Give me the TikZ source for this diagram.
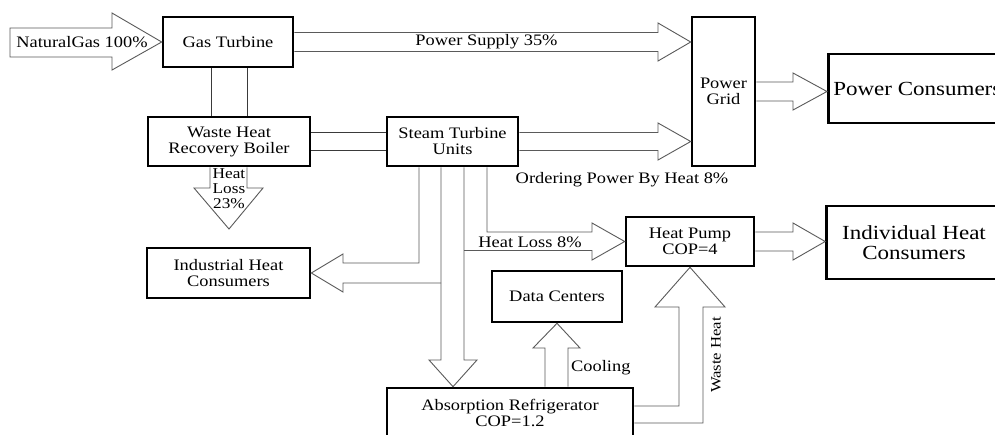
\documentclass[tikz,border=0pt]{standalone}
\usepackage{fontspec}
\setmainfont{Liberation Serif}[FakeStretch=1.15]
\usetikzlibrary{calc}
\newcommand\fmid{\fontsize{16}{16}\selectfont}
\newcommand\fbig{\fontsize{20}{20}\selectfont}
\newcommand\fsmall{\fontsize{15}{15}\selectfont}
\newcommand\ftiny{\fontsize{14.5}{14.5}\selectfont}
\definecolor{arrgray}{HTML}{5A5A5A}
\definecolor{linkgray}{HTML}{3A3A3A}
\begin{document}
\begin{tikzpicture}[x=1pt,y=-1pt,
  box/.style={draw=black,line width=2.6pt,align=center,inner sep=0pt,font=\fmid},
  bigbox/.style={box,font=\fbig},
  blk/.style={draw=arrgray,line width=0.9pt,line join=miter},
  link/.style={draw=linkgray,line width=1pt},
  lbl/.style={font=\fmid,inner sep=0pt,align=center}]
\useasboundingbox (0,0) rectangle (995,434);
\fill[white] (0,0) rectangle (995,434);
\begin{scope}
\clip (0,0) rectangle (995,434);
% boxes
\node[box,minimum width=130,minimum height=50] (gt) at (228,42) {Gas Turbine};
\node[box,minimum width=162,minimum height=49] (whrb) at (229,141.5) {Waste Heat\\Recovery Boiler};
\node[box,minimum width=131,minimum height=49] (st) at (452.5,141.5) {Steam Turbine\\Units};
\node[box,minimum width=63,minimum height=149] (grid) at (723.5,91.5) {Power\\Grid};
\node[bigbox,anchor=west,minimum height=69,inner xsep=5pt] (pc) at (827,88.5) {Power Consumers};
\node[bigbox,minimum width=175,minimum height=73] (ihc) at (914,242.5) {Individual Heat\\Consumers};
\node[box,minimum width=128,minimum height=49] (hp) at (690,241.5) {Heat Pump\\COP=4};
\node[box,minimum width=163,minimum height=50] (ind) at (228.5,273) {Industrial Heat\\Consumers};
\node[box,minimum width=130,minimum height=51] (dc) at (557,296.5) {Data Centers};
\node[box,minimum width=246,minimum height=50] (abs) at (510,413) {Absorption Refrigerator\\COP=1.2};
% natural gas
\draw[blk] (10,28) -- (112,28) -- (112,13) -- (gt.west) -- (112,70) -- (112,57) -- (10,57) -- cycle;
\node[lbl] (ng) at (82,42) {NaturalGas 100\%};
% power supply
\draw[blk] ($(gt.east)+(0,-9.5)$) -- (658,32.5) -- (658,23) -- (grid.west |- gt.east) -- (658,61) -- (658,51.5) -- ($(gt.east)+(0,9.5)$);
\node[lbl] at (486.5,42) {Power Supply 35\%};
% gt - whrb links
\draw[link] ($(gt.south)+(-17,0)$) -- ($(whrb.north)+(-18,0)$);
\draw[link] ($(gt.south)+(19,0)$) -- ($(whrb.north)+(18,0)$);
% whrb - st links
\draw[link] ($(whrb.east)+(0,-9.5)$) -- ($(st.west)+(0,-9.5)$);
\draw[link] ($(whrb.east)+(0,9)$) -- ($(st.west)+(0,9)$);
% st -> grid
\draw[blk] ($(st.east)+(0,-9)$) -- (658,132.5) -- (658,123) -- (grid.west |- st.east) -- (658,160) -- (658,150.5) -- ($(st.east)+(0,9)$);
\node[lbl] at (622,180) {Ordering Power By Heat 8\%};
% grid -> pc
\draw[blk] ($(grid.east)+(0,-9.5)$) -- (793,82) -- (793,73) -- (pc.west |- grid.east) -- (793,110) -- (793,101) -- ($(grid.east)+(0,9.5)$);
% heat loss 23
\coordinate (hl) at (229,229);
\draw[blk] ($(whrb.south)+(-19,0)$) -- (210,188) -- (194,188) -- (hl) -- (263,188) -- (247,188) -- ($(whrb.south)+(18,0)$);
\node[lbl,font=\fsmall] at (229,189) {Heat\\Loss\\23\%};
% industrial
\draw[blk] ($(st.south)+(-33.5,0)$) -- (419,263) -- (343,263) -- (343,254) -- (ind.east) -- (343,292) -- (343,283) -- (441,283);
% absorption
\draw[blk] ($(st.south)+(-11.5,0)$) -- (441,360) -- (429,360) -- ($(abs.north)+(-57,0)$) -- (477,360) -- (464,360) -- ($(st.south)+(11.5,0)$);
% heat loss 8
\draw[blk] ($(st.south)+(34.5,0)$) -- (487,232) -- (592,232) -- (592,223) -- (hp.west) -- (592,260) -- (592,250.5) -- (464,250.5);
\node[lbl] at (530,242) {Heat Loss 8\%};
% hp -> ihc
\draw[blk] ($(hp.east)+(0,-9.5)$) -- (793,232) -- (793,223) -- (ihc.west |- hp.east) -- (793,260) -- (793,251) -- ($(hp.east)+(0,9.5)$);
% cooling
\draw[blk] ($(abs.north)+(35,0)$) -- (545,348) -- (533,348) -- (dc.south) -- (580,348) -- (568,348) -- ($(abs.north)+(58,0)$);
\node[lbl,anchor=west] at (571,368) {Cooling};
% waste heat
\draw[blk] ($(abs.east)+(0,-7)$) -- (679,406) -- (679,307) -- (655,307) -- (hp.south) -- (725,307) -- (703,307) -- (703,423) -- ($(abs.east)+(0,10)$);
\node[lbl,font=\ftiny,rotate=90] at (716,355) {Waste Heat};
\end{scope}
\end{tikzpicture}
\end{document}
